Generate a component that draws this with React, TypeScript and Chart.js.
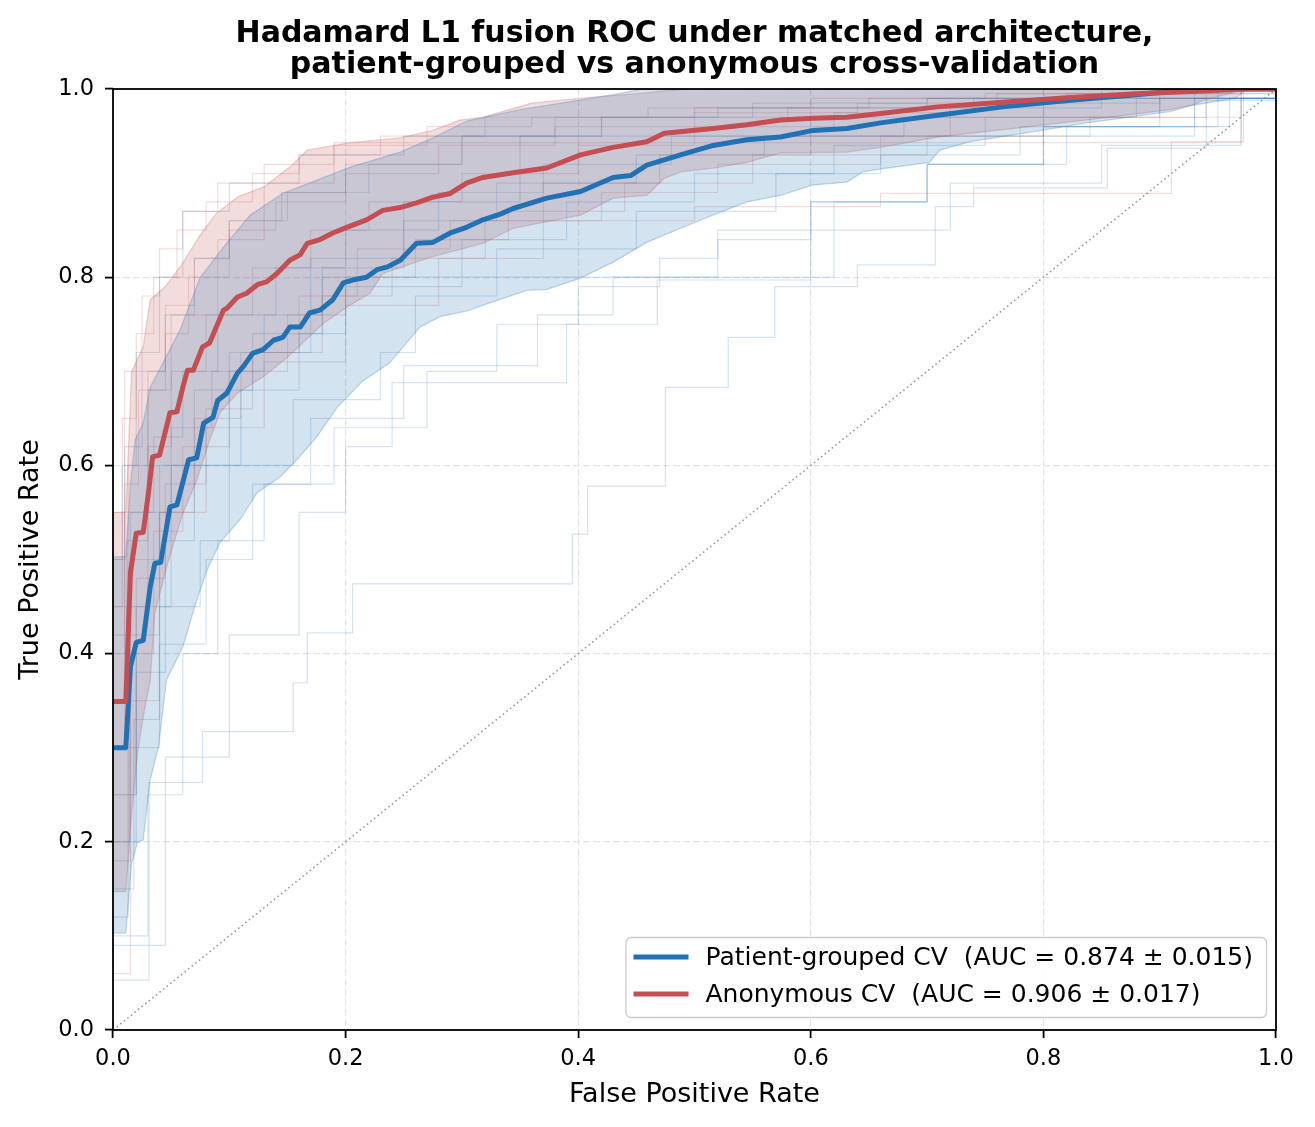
import React, { useEffect, useRef } from "react";
import { Chart, registerables } from "chart.js";

Chart.register(...registerables);

// ---------- text ----------
const TITLE_LINES = [
  "Hadamard L1 fusion ROC under matched architecture,",
  "patient-grouped vs anonymous cross-validation",
];
const X_LABEL = "False Positive Rate";
const Y_LABEL = "True Positive Rate";
const LEGEND_LABELS = [
  "Patient-grouped CV  (AUC = 0.874 ± 0.015)",
  "Anonymous CV  (AUC = 0.906 ± 0.017)",
];

// ---------- mean curves ----------
const blueMeanFpr = [0, 0.011, 0.015, 0.02, 0.026, 0.032, 0.036, 0.041, 0.049, 0.055, 0.065, 0.072, 0.078, 0.086, 0.09, 0.098, 0.107, 0.112, 0.12, 0.129, 0.138, 0.146, 0.152, 0.161, 0.169, 0.178, 0.189, 0.198, 0.206, 0.218, 0.227, 0.236, 0.247, 0.261, 0.275, 0.29, 0.304, 0.318, 0.333, 0.344, 0.373, 0.402, 0.43, 0.445, 0.459, 0.488, 0.516, 0.545, 0.574, 0.602, 0.631, 0.66, 0.709, 0.765, 0.823, 0.88, 0.93, 1];
const blueMeanTpr = [0.3, 0.3, 0.386, 0.412, 0.414, 0.471, 0.496, 0.497, 0.556, 0.558, 0.606, 0.608, 0.645, 0.651, 0.669, 0.677, 0.698, 0.705, 0.719, 0.723, 0.733, 0.736, 0.747, 0.747, 0.762, 0.765, 0.776, 0.794, 0.797, 0.8, 0.808, 0.811, 0.818, 0.836, 0.837, 0.847, 0.853, 0.861, 0.867, 0.873, 0.884, 0.891, 0.906, 0.908, 0.919, 0.93, 0.94, 0.946, 0.949, 0.956, 0.958, 0.964, 0.972, 0.981, 0.988, 0.994, 1.0, 1.0];

const redMeanFpr = [0, 0.011, 0.015, 0.02, 0.026, 0.03, 0.034, 0.04, 0.049, 0.055, 0.06, 0.064, 0.069, 0.077, 0.083, 0.095, 0.098, 0.107, 0.115, 0.124, 0.132, 0.141, 0.152, 0.161, 0.167, 0.178, 0.189, 0.201, 0.218, 0.232, 0.247, 0.261, 0.275, 0.29, 0.304, 0.318, 0.344, 0.373, 0.402, 0.43, 0.459, 0.474, 0.516, 0.545, 0.574, 0.602, 0.631, 0.66, 0.709, 0.765, 0.823, 0.88, 0.937, 0.975, 1];
const redMeanTpr = [0.349, 0.349, 0.486, 0.528, 0.529, 0.566, 0.609, 0.611, 0.656, 0.657, 0.683, 0.701, 0.701, 0.726, 0.73, 0.765, 0.767, 0.779, 0.783, 0.792, 0.795, 0.804, 0.818, 0.824, 0.836, 0.84, 0.847, 0.853, 0.861, 0.871, 0.874, 0.879, 0.885, 0.889, 0.9, 0.906, 0.911, 0.916, 0.93, 0.938, 0.944, 0.953, 0.958, 0.962, 0.967, 0.969, 0.97, 0.974, 0.981, 0.986, 0.991, 0.995, 0.998, 1.0, 1.0];

// ---------- ±1 std bands ----------
const blueUpperFpr = [0, 0.011, 0.015, 0.019, 0.026, 0.032, 0.043, 0.058, 0.075, 0.095, 0.118, 0.146, 0.175, 0.204, 0.247, 0.275, 0.304, 0.35, 0.4, 0.43, 0.455, 1];
const blueUpperTpr = [0.503, 0.503, 0.58, 0.627, 0.645, 0.683, 0.709, 0.745, 0.8, 0.832, 0.866, 0.889, 0.903, 0.917, 0.933, 0.948, 0.966, 0.978, 0.988, 0.994, 1.0, 1.0];
const blueLowerFpr = [0, 0.011, 0.016, 0.021, 0.026, 0.032, 0.039, 0.046, 0.06, 0.072, 0.081, 0.092, 0.109, 0.124, 0.144, 0.158, 0.175, 0.193, 0.215, 0.238, 0.264, 0.281, 0.304, 0.327, 0.356, 0.373, 0.402, 0.43, 0.459, 0.488, 0.516, 0.545, 0.574, 0.602, 0.631, 0.645, 0.66, 0.702, 0.711, 0.737, 0.788, 0.837, 0.909, 0.929, 0.965, 0.975, 1];
const blueLowerTpr = [0.103, 0.103, 0.177, 0.199, 0.202, 0.266, 0.3, 0.372, 0.407, 0.457, 0.489, 0.518, 0.542, 0.571, 0.588, 0.606, 0.63, 0.662, 0.69, 0.709, 0.747, 0.758, 0.764, 0.774, 0.786, 0.787, 0.799, 0.816, 0.837, 0.852, 0.866, 0.88, 0.887, 0.898, 0.901, 0.912, 0.915, 0.922, 0.935, 0.944, 0.954, 0.964, 0.976, 0.983, 0.99, 1.0, 1.0];

const redUpperFpr = [0, 0.011, 0.016, 0.026, 0.032, 0.045, 0.06, 0.075, 0.089, 0.108, 0.13, 0.152, 0.167, 0.204, 0.247, 0.275, 0.298, 0.318, 0.36, 0.4, 0.45, 0.49, 1];
const redUpperTpr = [0.55, 0.55, 0.7, 0.726, 0.776, 0.79, 0.815, 0.845, 0.868, 0.886, 0.896, 0.917, 0.935, 0.943, 0.948, 0.956, 0.967, 0.97, 0.985, 0.99, 0.995, 1.0, 1.0];
const redLowerFpr = [0, 0.011, 0.016, 0.021, 0.026, 0.032, 0.036, 0.046, 0.06, 0.072, 0.083, 0.092, 0.107, 0.129, 0.15, 0.163, 0.181, 0.201, 0.221, 0.232, 0.275, 0.318, 0.344, 0.373, 0.402, 0.43, 0.459, 0.474, 0.488, 0.516, 0.545, 0.574, 0.631, 0.66, 0.709, 0.788, 0.85, 0.909, 0.929, 0.937, 0.975, 1];
const redLowerTpr = [0.147, 0.147, 0.23, 0.294, 0.333, 0.372, 0.443, 0.492, 0.549, 0.584, 0.627, 0.656, 0.677, 0.694, 0.715, 0.73, 0.751, 0.768, 0.783, 0.804, 0.822, 0.836, 0.852, 0.859, 0.866, 0.884, 0.887, 0.905, 0.912, 0.916, 0.922, 0.932, 0.933, 0.938, 0.949, 0.96, 0.969, 0.978, 0.983, 0.988, 1.0, 1.0];

// ---------- individual folds (step points: at fpr f the TPR rises to t) ----------
const blueFoldsFpr: number[][] = [
  [0, 0.031, 0.077, 0.155, 0.167, 0.206, 0.395, 0.408, 0.475, 0.529, 0.569, 0.64, 0.707, 0.74, 0.855, 0.94, 1],
  [0, 0.045, 0.1, 0.16, 0.2, 0.24, 0.39, 0.468, 0.6, 0.72, 0.85, 0.97, 1],
  [0, 0.013, 0.04, 0.08, 0.12, 0.17, 0.25, 0.365, 0.43, 0.52, 0.6, 0.7, 0.82, 0.93, 1],
  [0, 0.02, 0.045, 0.07, 0.11, 0.16, 0.2, 0.3, 0.39, 0.5, 0.62, 0.75, 0.88, 1],
  [0, 0.012, 0.03, 0.05, 0.085, 0.13, 0.18, 0.25, 0.33, 0.45, 0.56, 0.68, 0.8, 0.9, 1],
  [0, 0.015, 0.035, 0.06, 0.09, 0.14, 0.2, 0.28, 0.37, 0.48, 0.6, 0.72, 0.85, 1],
  [0, 0.01, 0.025, 0.045, 0.07, 0.1, 0.15, 0.22, 0.3, 0.42, 0.55, 0.7, 0.85, 1],
  [0, 0.018, 0.04, 0.075, 0.1, 0.155, 0.23, 0.26, 0.33, 0.45, 0.57, 0.66, 0.78, 0.96, 1],
  [0, 0.008, 0.02, 0.04, 0.06, 0.1, 0.16, 0.25, 0.38, 0.52, 0.7, 1],
  [0, 0.03, 0.06, 0.09, 0.13, 0.19, 0.27, 0.33, 0.4, 0.47, 0.52, 0.6, 0.7, 0.8, 0.9, 1],
  [0, 0.02, 0.05, 0.1, 0.17, 0.25, 0.35, 0.93, 1],
  [0, 0.015, 0.04, 0.07, 0.12, 0.18, 0.62, 0.7, 0.8, 0.95, 1],
];
const blueFoldsTpr: number[][] = [
  [0.053, 0.263, 0.317, 0.369, 0.422, 0.474, 0.527, 0.578, 0.683, 0.736, 0.79, 0.813, 0.875, 0.895, 0.937, 0.988, 1],
  [0.09, 0.29, 0.42, 0.55, 0.62, 0.688, 0.75, 0.797, 0.85, 0.9, 0.94, 0.99, 1],
  [0.12, 0.3, 0.41, 0.5, 0.58, 0.65, 0.706, 0.76, 0.8, 0.84, 0.88, 0.92, 0.96, 1.0, 1],
  [0.2, 0.38, 0.52, 0.6, 0.68, 0.74, 0.79, 0.84, 0.88, 0.91, 0.94, 0.97, 0.99, 1],
  [0.3, 0.45, 0.55, 0.64, 0.7, 0.76, 0.81, 0.86, 0.9, 0.93, 0.95, 0.97, 0.985, 1, 1],
  [0.42, 0.55, 0.63, 0.7, 0.76, 0.81, 0.85, 0.89, 0.92, 0.95, 0.97, 0.98, 0.99, 1],
  [0.5, 0.62, 0.7, 0.76, 0.82, 0.86, 0.89, 0.92, 0.95, 0.97, 0.985, 0.99, 1, 1],
  [0.15, 0.33, 0.45, 0.52, 0.6, 0.67, 0.72, 0.78, 0.83, 0.87, 0.91, 0.93, 0.96, 0.99, 1],
  [0.45, 0.6, 0.72, 0.8, 0.87, 0.9, 0.93, 0.95, 0.97, 0.98, 0.99, 1],
  [0.1, 0.25, 0.4, 0.52, 0.58, 0.64, 0.7, 0.75, 0.79, 0.82, 0.85, 0.88, 0.92, 0.96, 0.99, 1],
  [0.25, 0.45, 0.6, 0.72, 0.82, 0.88, 0.95, 0.99, 1],
  [0.35, 0.5, 0.6, 0.68, 0.74, 0.8, 0.88, 0.92, 0.96, 1, 1],
];
const redFoldsFpr: number[][] = [
  [0, 0.012, 0.03, 0.05, 0.08, 0.12, 0.17, 0.22, 0.3, 0.4, 0.5, 0.62, 0.74, 0.86, 1],
  [0, 0.01, 0.025, 0.04, 0.06, 0.09, 0.13, 0.19, 0.27, 0.36, 0.5, 0.65, 0.8, 1],
  [0, 0.015, 0.035, 0.06, 0.1, 0.15, 0.2, 0.26, 0.34, 0.44, 0.55, 0.7, 0.84, 0.97, 1],
  [0, 0.013, 0.03, 0.045, 0.07, 0.1, 0.145, 0.2, 0.3, 0.42, 0.58, 0.76, 1],
  [0, 0.02, 0.045, 0.08, 0.12, 0.18, 0.24, 0.32, 0.42, 0.52, 0.66, 0.8, 0.94, 1],
  [0, 0.008, 0.02, 0.035, 0.055, 0.08, 0.12, 0.16, 0.23, 0.32, 0.46, 0.6, 0.75, 0.9, 1],
  [0, 0.015, 0.04, 0.07, 0.11, 0.16, 0.21, 0.29, 0.37, 0.47, 0.6, 0.72, 0.9, 1],
  [0, 0.01, 0.022, 0.045, 0.065, 0.1, 0.14, 0.2, 0.28, 0.38, 0.5, 0.64, 0.82, 1],
  [0, 0.014, 0.04, 0.08, 0.13, 0.2, 0.28, 0.37, 0.5, 0.66, 0.91, 0.972, 1],
  [0, 0.01, 0.03, 0.05, 0.09, 0.13, 0.19, 0.97, 1],
];
const redFoldsTpr: number[][] = [
  [0.35, 0.52, 0.62, 0.7, 0.76, 0.81, 0.85, 0.88, 0.91, 0.94, 0.96, 0.975, 0.99, 1, 1],
  [0.55, 0.7, 0.78, 0.83, 0.87, 0.9, 0.92, 0.94, 0.96, 0.97, 0.98, 0.99, 1, 1],
  [0.18, 0.4, 0.53, 0.62, 0.7, 0.76, 0.8, 0.84, 0.87, 0.9, 0.93, 0.95, 0.97, 1, 1],
  [0.45, 0.6, 0.7, 0.77, 0.82, 0.86, 0.89, 0.92, 0.95, 0.97, 0.98, 0.995, 1],
  [0.25, 0.48, 0.58, 0.66, 0.72, 0.78, 0.82, 0.86, 0.89, 0.92, 0.95, 0.97, 1, 1],
  [0.5, 0.65, 0.74, 0.8, 0.85, 0.88, 0.91, 0.93, 0.95, 0.97, 0.98, 0.99, 0.995, 1, 1],
  [0.06, 0.35, 0.55, 0.65, 0.72, 0.78, 0.83, 0.86, 0.9, 0.93, 0.95, 0.97, 0.99, 1],
  [0.4, 0.58, 0.68, 0.74, 0.8, 0.85, 0.88, 0.91, 0.94, 0.96, 0.975, 0.985, 0.995, 1],
  [0.2, 0.42, 0.55, 0.64, 0.71, 0.77, 0.82, 0.86, 0.875, 0.889, 0.944, 1, 1],
  [0.3, 0.55, 0.68, 0.76, 0.84, 0.9, 0.943, 1, 1],
];

const chanceFpr = [0, 1];
const chanceTpr = [0, 1];

const BLUE = "33,113,181";
const RED = "196,78,82";
const FONT = "'DejaVu Sans', 'Liberation Sans', sans-serif";

const pts = (xs: number[], ys: number[]) => xs.map((x, i) => ({ x, y: ys[i] }));

const framePlugin = {
  id: "frame",
  afterDatasetsDraw(chart: any) {
    const { ctx, chartArea } = chart;
    const { left, right, top, bottom } = chartArea;
    // legend
    ctx.save();
    ctx.font = `25px ${FONT}`;
    const textW = Math.max(...LEGEND_LABELS.map((t) => ctx.measureText(t).width));
    const boxW = 80 + textW + 13;
    const boxH = 80;
    const bx = right - 10 - boxW;
    const by = bottom - 13 - boxH;
    ctx.beginPath();
    (ctx as any).roundRect(bx + 0.5, by + 0.5, boxW, boxH, 5);
    ctx.fillStyle = "rgba(255,255,255,0.8)";
    ctx.fill();
    ctx.lineWidth = 1.3;
    ctx.strokeStyle = "#cccccc";
    ctx.stroke();
    const colors = [`rgb(${BLUE})`, `rgb(${RED})`];
    LEGEND_LABELS.forEach((label, i) => {
      const cy = by + 20 + i * 37;
      ctx.beginPath();
      ctx.moveTo(bx + 8, cy);
      ctx.lineTo(bx + 63, cy);
      ctx.lineWidth = 5;
      ctx.strokeStyle = colors[i];
      ctx.stroke();
      ctx.fillStyle = "#000";
      ctx.textBaseline = "middle";
      ctx.textAlign = "left";
      ctx.fillText(label, bx + 80, cy + 1);
    });
    ctx.restore();
    // axes frame
    ctx.save();
    ctx.lineWidth = 1.8;
    ctx.strokeStyle = "#000";
    ctx.strokeRect(left, top, right - left, bottom - top);
    ctx.restore();
  },
};

export default function App() {
  const ref = useRef<HTMLCanvasElement>(null);

  useEffect(() => {
    document.body.style.margin = "0";
    const canvas = ref.current!;
    const datasets: any[] = [];

    datasets.push({
      label: "Anonymous CV mean",
      data: pts(redMeanFpr, redMeanTpr),
      borderColor: `rgb(${RED})`,
      borderWidth: 5,
      borderJoinStyle: "round",
      pointRadius: 0,
      fill: false,
      order: 0,
    });
    datasets.push({
      label: "Patient-grouped CV mean",
      data: pts(blueMeanFpr, blueMeanTpr),
      borderColor: `rgb(${BLUE})`,
      borderWidth: 5,
      borderJoinStyle: "round",
      pointRadius: 0,
      fill: false,
      order: 1,
    });
    datasets.push({
      label: "chance",
      data: pts(chanceFpr, chanceTpr),
      borderColor: "rgba(120,120,120,0.75)",
      borderWidth: 1.6,
      borderDash: [1.6, 3],
      pointRadius: 0,
      fill: false,
      order: 2,
    });
    const bandDefs = [
      { c: BLUE, up: pts(blueUpperFpr, blueUpperTpr), lo: pts(blueLowerFpr, blueLowerTpr) },
      { c: RED, up: pts(redUpperFpr, redUpperTpr), lo: pts(redLowerFpr, redLowerTpr) },
    ];
    bandDefs.forEach((b, k) => {
      const upIdx = datasets.length;
      datasets.push({
        label: "band upper",
        data: b.up,
        borderColor: `rgba(${b.c},0.25)`,
        borderWidth: 1.3,
        pointRadius: 0,
        fill: false,
        order: 3 + k * 0.1,
      });
      datasets.push({
        label: "band lower",
        data: b.lo,
        borderColor: `rgba(${b.c},0.25)`,
        borderWidth: 1.3,
        pointRadius: 0,
        backgroundColor: `rgba(${b.c},0.2)`,
        fill: { target: upIdx, above: `rgba(${b.c},0.2)`, below: `rgba(${b.c},0.2)` },
        order: 3 + k * 0.1,
      });
    });
    blueFoldsFpr.forEach((fx, i) => {
      datasets.push({
        label: "fold",
        data: pts(fx, blueFoldsTpr[i]),
        borderColor: `rgba(${BLUE},0.2)`,
        borderWidth: 1.2,
        stepped: "before",
        pointRadius: 0,
        fill: false,
        order: 5,
      });
    });
    redFoldsFpr.forEach((fx, i) => {
      datasets.push({
        label: "fold",
        data: pts(fx, redFoldsTpr[i]),
        borderColor: `rgba(${RED},0.2)`,
        borderWidth: 1.2,
        stepped: "before",
        pointRadius: 0,
        fill: false,
        order: 5,
      });
    });

    const tickFmt = (v: any) => Number(v).toFixed(1);
    const gridOpts = {
      color: "#e4e4e4",
      lineWidth: 1.2,
      tickColor: "#000",
      tickWidth: 1.8,
      tickLength: 8,
      drawTicks: true,
    };

    const chart = new Chart(canvas, {
      type: "line",
      data: { datasets },
      plugins: [framePlugin],
      options: {
        animation: false,
        responsive: false,
        devicePixelRatio: 1,
        events: [],
        layout: { padding: { left: 0, right: 39, top: 0, bottom: 0 } },
        plugins: {
          legend: { display: false },
          tooltip: { enabled: false },
          title: {
            display: true,
            text: TITLE_LINES,
            color: "#000",
            fullSize: false,
            font: { family: FONT, size: 30, weight: "bold", lineHeight: 1.05 },
            padding: { top: 18, bottom: 8 },
          },
        },
        scales: {
          x: {
            type: "linear",
            min: 0,
            max: 1,
            afterFit: (s: any) => {
              s.height = 97;
            },
            ticks: {
              stepSize: 0.2,
              callback: tickFmt,
              color: "#000",
              font: { family: FONT, size: 22.5 },
              padding: 8,
              maxRotation: 0,
            },
            grid: gridOpts,
            border: { display: false, dash: [7, 3] },
            title: {
              display: true,
              text: X_LABEL,
              color: "#000",
              font: { family: FONT, size: 27 },
              padding: { top: 0, bottom: 16 },
            },
          },
          y: {
            type: "linear",
            min: 0,
            max: 1,
            afterFit: (s: any) => {
              s.width = 113;
            },
            ticks: {
              stepSize: 0.2,
              callback: tickFmt,
              color: "#000",
              font: { family: FONT, size: 22.5 },
              padding: 11,
            },
            grid: gridOpts,
            border: { display: false, dash: [7, 3] },
            title: {
              display: true,
              text: Y_LABEL,
              color: "#000",
              font: { family: FONT, size: 27 },
              padding: { top: 15, bottom: 0 },
            },
          },
        },
      } as any,
    });
    return () => chart.destroy();
  }, []);

  return (
    <div style={{ position: "absolute", left: 0, top: 0, width: 1315, height: 1127, background: "#fff" }}>
      <canvas ref={ref} width={1315} height={1127} style={{ width: 1315, height: 1127, display: "block" }} />
    </div>
  );
}
